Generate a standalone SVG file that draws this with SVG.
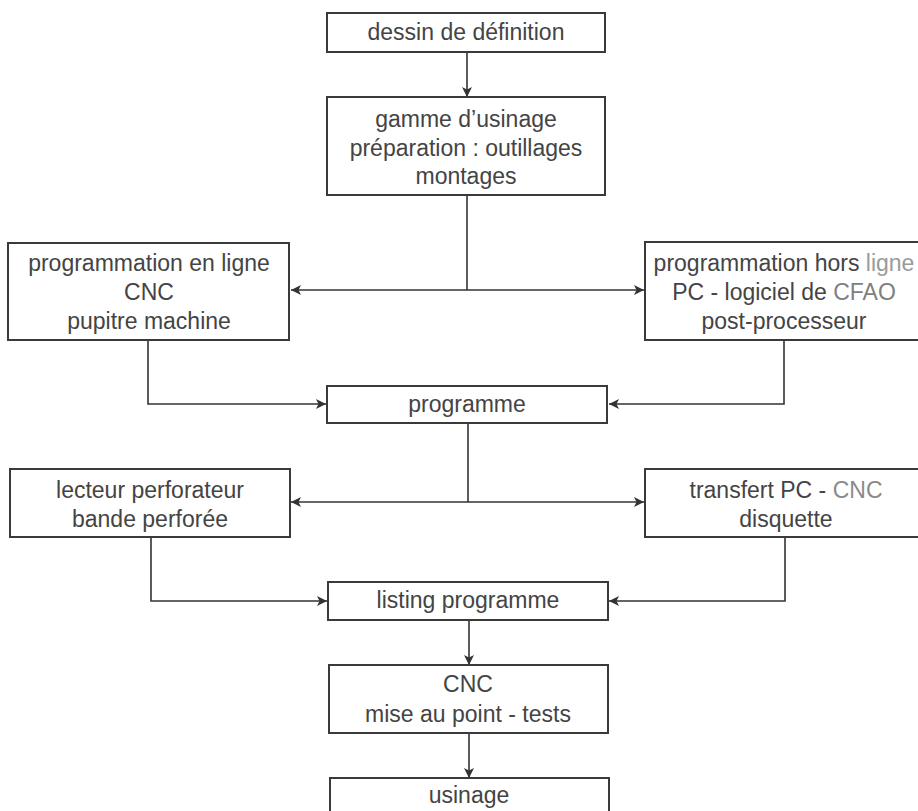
<svg xmlns="http://www.w3.org/2000/svg" width="918" height="811" viewBox="0 0 918 811">
<style>
.box{fill:#fff;stroke:#3a3a3a;stroke-width:2}
.t{font-family:"Liberation Sans",Arial,sans-serif;font-size:23px;fill:#444;text-anchor:middle}
.lt{fill:#9a9a9a}
.c{fill:none;stroke:#333;stroke-width:1.6}
</style>
<defs>
<marker id="ah" viewBox="0 0 10 10" refX="10" refY="5" markerWidth="10" markerHeight="10" markerUnits="userSpaceOnUse" orient="auto">
<path d="M0,0 L10,5 L0,10 L2.5,5 Z" fill="#333"/>
</marker>
</defs>
<rect width="918" height="811" fill="#fff"/>
<g id="connectors">
<line class="c" x1="467" y1="52" x2="467" y2="97" marker-end="url(#ah)"/>
<line class="c" x1="467" y1="195" x2="467" y2="290"/>
<line class="c" x1="467" y1="290" x2="291" y2="290" marker-end="url(#ah)"/>
<line class="c" x1="467" y1="290" x2="644" y2="290" marker-end="url(#ah)"/>
<polyline class="c" points="148,340 148,404 326,404" marker-end="url(#ah)"/>
<polyline class="c" points="784,340 784,404 609,404" marker-end="url(#ah)"/>
<line class="c" x1="468" y1="423" x2="468" y2="502"/>
<line class="c" x1="468" y1="502" x2="291" y2="502" marker-end="url(#ah)"/>
<line class="c" x1="468" y1="502" x2="644" y2="502" marker-end="url(#ah)"/>
<polyline class="c" points="151,537 151,601 327,601" marker-end="url(#ah)"/>
<polyline class="c" points="785,537 785,601 609,601" marker-end="url(#ah)"/>
<line class="c" x1="469" y1="620" x2="469" y2="665" marker-end="url(#ah)"/>
<line class="c" x1="469" y1="733" x2="469" y2="778" marker-end="url(#ah)"/>
</g>
<g id="n1">
<rect class="box" x="327" y="13" width="278" height="39"/>
<text class="t" x="466" y="40">dessin de définition</text>
</g>
<g id="n2">
<rect class="box" x="327" y="97" width="278" height="98"/>
<text class="t" x="466" y="127">gamme d’usinage</text>
<text class="t" x="466" y="156">préparation : outillages</text>
<text class="t" x="466" y="184">montages</text>
</g>
<g id="n3">
<rect class="box" x="8" y="243" width="281" height="97"/>
<text class="t" x="149" y="271">programmation en ligne</text>
<text class="t" x="149" y="300">CNC</text>
<text class="t" x="149" y="329">pupitre machine</text>
</g>
<g id="n4">
<rect class="box" x="645" y="242" width="280" height="98"/>
<text class="t" x="784" y="271">programmation hors <tspan class="lt">ligne</tspan></text>
<text class="t" x="784" y="300">PC - logiciel de <tspan fill="#808080">CFAO</tspan></text>
<text class="t" x="784" y="329">post-processeur</text>
</g>
<g id="n5">
<rect class="box" x="327" y="386" width="280" height="37"/>
<text class="t" x="467" y="412">programme</text>
</g>
<g id="n6">
<rect class="box" x="10" y="469" width="280" height="68"/>
<text class="t" x="150" y="498">lecteur perforateur</text>
<text class="t" x="150" y="527">bande perforée</text>
</g>
<g id="n7">
<rect class="box" x="645" y="469" width="280" height="68"/>
<text class="t" x="786" y="498">transfert PC - <tspan fill="#8a8a8a">CNC</tspan></text>
<text class="t" x="786" y="527">disquette</text>
</g>
<g id="n8">
<rect class="box" x="328" y="582" width="280" height="38"/>
<text class="t" x="468" y="608">listing programme</text>
</g>
<g id="n9">
<rect class="box" x="329" y="665" width="279" height="68"/>
<text class="t" x="468" y="692">CNC</text>
<text class="t" x="468" y="722">mise au point - tests</text>
</g>
<g id="n10">
<rect class="box" x="330" y="778" width="279" height="40"/>
<text class="t" x="469" y="803">usinage</text>
</g>
</svg>
